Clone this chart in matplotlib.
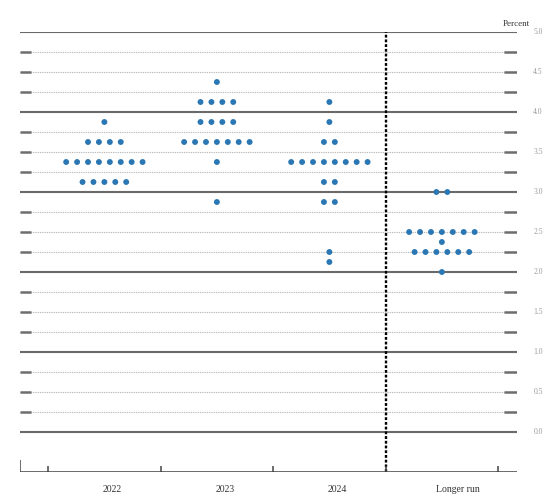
import matplotlib
matplotlib.use("Agg")
import matplotlib.pyplot as plt
import numpy as np

# FOMC-style dot plot: target rate levels and number of participants at each
categories = ["2022", "2023", "2024", "Longer run"]
rates_2022 = [3.875, 3.625, 3.375, 3.125]
counts_2022 = [1, 4, 8, 5]
rates_2023 = [4.375, 4.125, 3.875, 3.625, 3.375, 2.875]
counts_2023 = [1, 4, 4, 7, 1, 1]
rates_2024 = [4.125, 3.875, 3.625, 3.375, 3.125, 2.875, 2.25, 2.125]
counts_2024 = [1, 1, 2, 8, 2, 2, 1, 1]
rates_lr = [3.0, 2.5, 2.375, 2.25, 2.0]
counts_lr = [2, 7, 1, 6, 1]
ytick_labels = ["0.0", "0.5", "1.0", "1.5", "2.0", "2.5", "3.0", "3.5", "4.0", "4.5", "5.0"]

groups = [(rates_2022, counts_2022), (rates_2023, counts_2023),
          (rates_2024, counts_2024), (rates_lr, counts_lr)]

plt.rcParams["font.family"] = ["Liberation Serif", "DejaVu Serif"]

fig = plt.figure(figsize=(5.54, 5.01), dpi=100)
ax = fig.add_axes([20 / 554, 29 / 501, 496.7 / 554, 440 / 501])
ax.set_xlim(-0.75, 3.665)
ax.set_ylim(-0.5, 5.0)
ax.axis("off")

x0, x1 = ax.get_xlim()
levels = np.arange(0, 5.01, 0.25)
for lv in levels:
    if abs(lv - round(lv)) < 1e-9:
        ax.hlines(lv, x0, x1, color="#6a6a6a", lw=1.5, zorder=1)
    else:
        ax.hlines(lv, x0, x1, color="#b0b0b0", lw=0.8, linestyles=(0, (0.8, 0.8)), zorder=1)
        ax.hlines(lv, x0, x0 + 0.098, color="#6e6e6e", lw=1.8, zorder=1)
        ax.hlines(lv, x1 - 0.11, x1, color="#6e6e6e", lw=1.8, zorder=1)

# divider before longer run
ax.vlines(2.5, -0.5, 5.0, color="black", lw=1.7, linestyles=(0, (1.2, 0.8)), zorder=2)

# bottom axis with ticks between categories
ax.hlines(-0.5, x0, x1, color="#444444", lw=1.1, zorder=2)
ax.vlines(x0 + 0.004, -0.5, -0.35, color="#444444", lw=1.1, zorder=2)
for t in np.arange(-0.5, 3.6, 1.0):
    ax.vlines(t, -0.5, -0.425, color="#444444", lw=1.1, zorder=2)

# dots
step = 0.097
for i, (rates, counts) in enumerate(groups):
    for r, n in zip(rates, counts):
        xs = i + (np.arange(n) - (n - 1) / 2) * step
        ax.scatter(xs, [r] * n, s=18, color="#2b77b3", edgecolors="none", zorder=3)

# labels
label_shift = [0.07, 0.07, 0.07, 0.14]
for i, name in enumerate(categories):
    ax.text(i + label_shift[i], -0.725, name, ha="center", va="center",
            fontsize=7, color="#333333")

ytr = ax.get_yaxis_transform()
for k, lab in enumerate(ytick_labels):
    ax.text(1.043, k * 0.5, lab, transform=ytr, ha="center", va="center",
            fontsize=5.5, color="#9a9a9a", clip_on=False)
ax.text(1.027, 5.1, "Percent", transform=ytr, ha="right", va="center",
        fontsize=6.5, color="#333333", clip_on=False)

fig.savefig("out.png", dpi=100, facecolor="white")
